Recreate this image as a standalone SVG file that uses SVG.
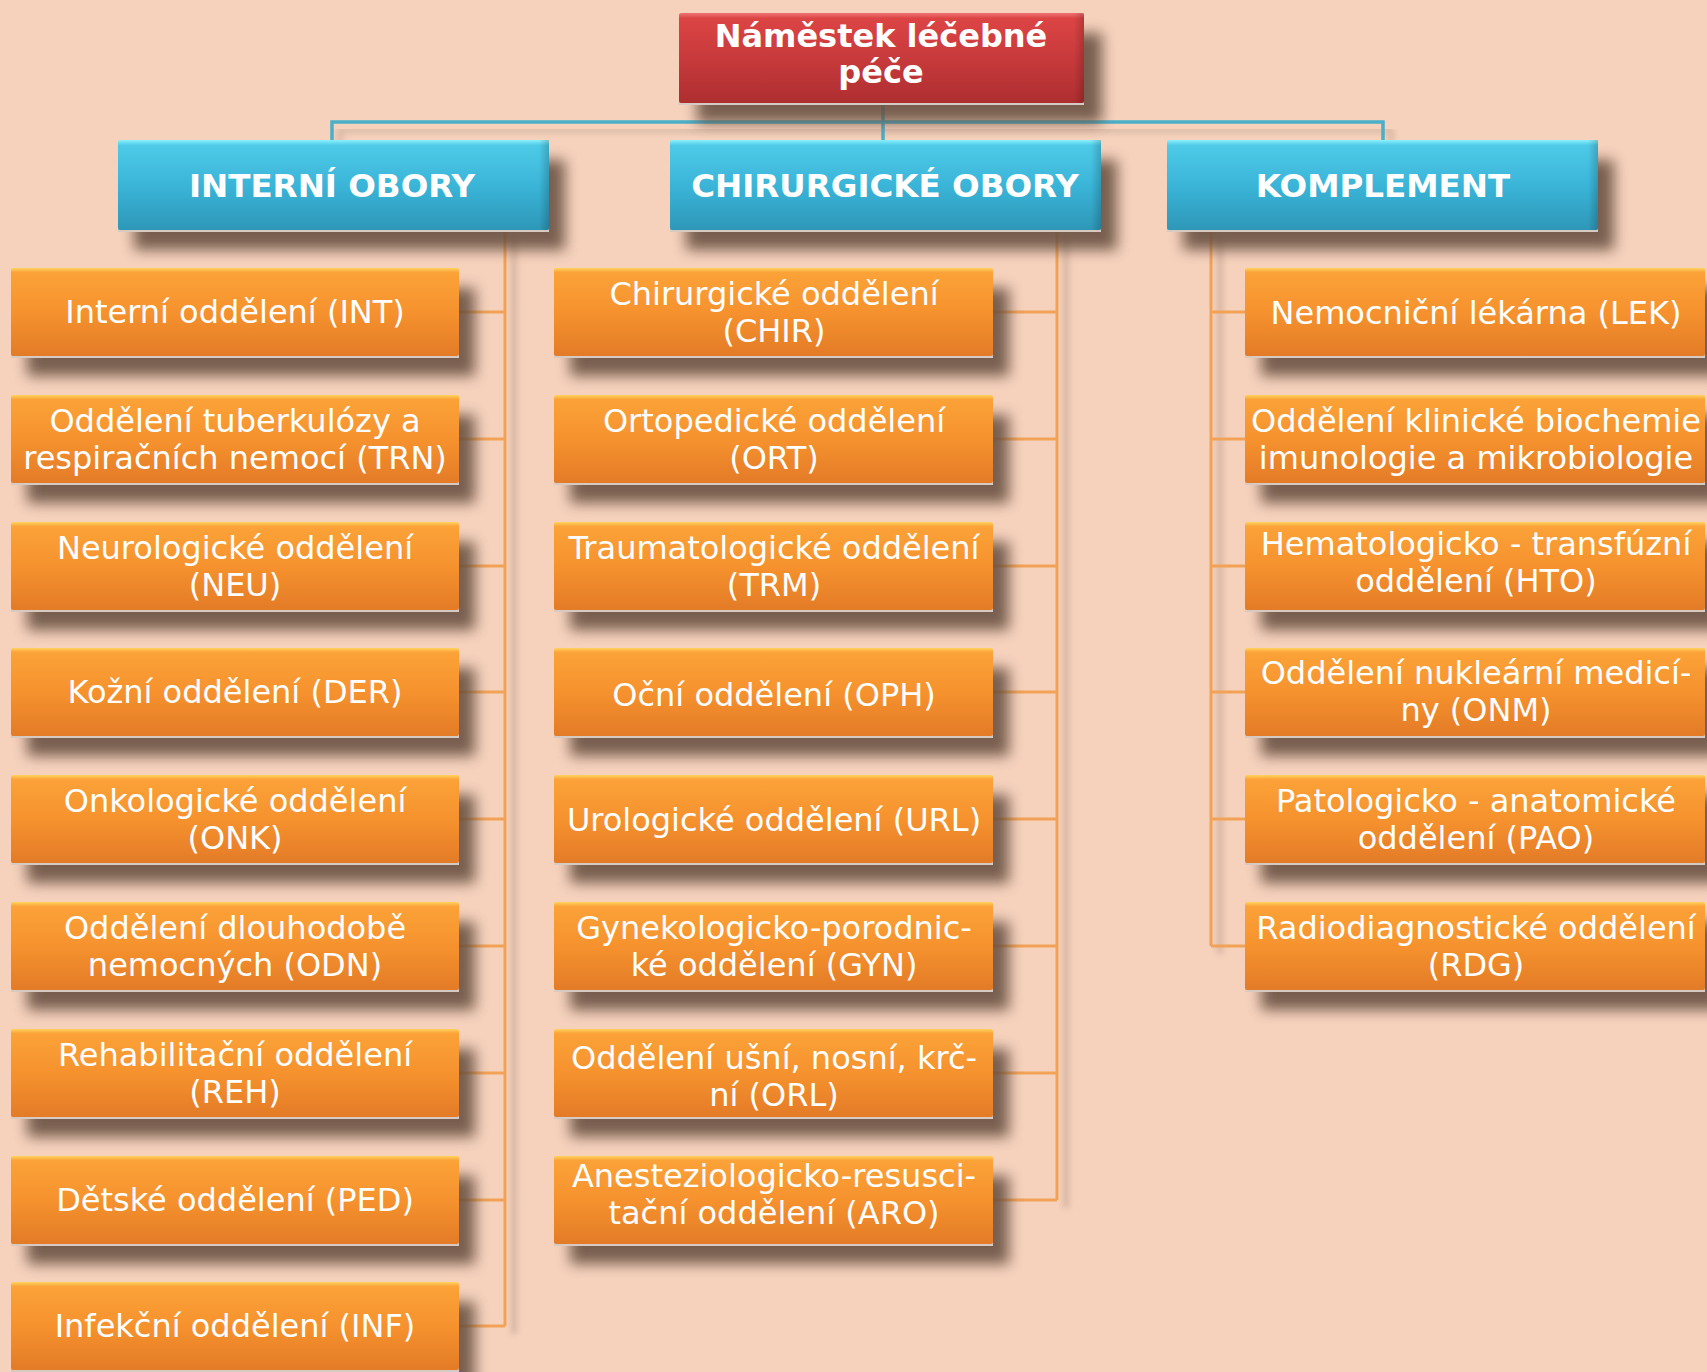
<svg xmlns="http://www.w3.org/2000/svg" width="1707" height="1372" viewBox="0 0 1707 1372">
<defs>
<linearGradient id="gOr" x1="0" y1="0" x2="0" y2="1">
<stop offset="0" stop-color="#FFD45E"/>
<stop offset="0.05" stop-color="#FBA238"/>
<stop offset="0.5" stop-color="#F6922E"/>
<stop offset="1" stop-color="#E37B27"/>
</linearGradient>
<linearGradient id="gTe" x1="0" y1="0" x2="0" y2="1">
<stop offset="0" stop-color="#8AF0FC"/>
<stop offset="0.06" stop-color="#4ECAE8"/>
<stop offset="0.5" stop-color="#3AB5D8"/>
<stop offset="1" stop-color="#2E97B8"/>
</linearGradient>
<linearGradient id="gRe" x1="0" y1="0" x2="0" y2="1">
<stop offset="0" stop-color="#F07272"/>
<stop offset="0.06" stop-color="#DC4444"/>
<stop offset="0.5" stop-color="#C83A3C"/>
<stop offset="1" stop-color="#AE2E30"/>
</linearGradient>
<linearGradient id="gSide" x1="0" y1="0" x2="1" y2="0">
<stop offset="0" stop-color="#000000" stop-opacity="0"/>
<stop offset="1" stop-color="#000000" stop-opacity="0.18"/>
</linearGradient>
<filter id="blur" x="-20%" y="-50%" width="140%" height="200%">
<feGaussianBlur stdDeviation="7"/>
</filter>
<filter id="blur2" x="-50%" y="-5%" width="200%" height="110%">
<feGaussianBlur stdDeviation="3"/>
</filter>
</defs>
<style>
.sh{fill:#67503F;opacity:0.88;filter:url(#blur)}
.or{fill:url(#gOr)}
.te{fill:url(#gTe)}
.re{fill:url(#gRe)}
.edge{fill:#D6CAC2}
.t{font-family:"DejaVu Sans","Verdana",sans-serif;font-size:32px;fill:#FFFFFF;text-anchor:middle}
.h{font-family:"DejaVu Sans","Verdana",sans-serif;font-size:32.5px;font-weight:bold;fill:#FFFFFF;text-anchor:middle}
.co{fill:none;stroke:#F2A256;stroke-width:3}
.cs{fill:none;stroke:#8A6E5E;stroke-width:5;opacity:0.35;filter:url(#blur2)}
.ct{fill:none;stroke:#4AAFC8;stroke-width:3.5}
.cts{fill:none;stroke:#8A6E5E;stroke-width:5;opacity:0.3;filter:url(#blur2)}
</style>
<rect x="0" y="0" width="1707" height="1372" fill="#F6D2BD"/>

<g id="connectors">
<path class="cs" d="M514 236V1334M1066 236V1208M1220 236V954"/>
<path class="cts" d="M340 146V130H1391V146"/>
<path class="ct" d="M883 103V140M332 140V122H1383V140"/>
<path class="co" d="M505 230V1326M459 312H505M459 439H505M459 566H505M459 692H505M459 819H505M459 946H505M459 1073H505M459 1200H505M459 1326H505"/>
<path class="co" d="M1057 230V1200M993 312H1057M993 439H1057M993 566H1057M993 692H1057M993 819H1057M993 946H1057M993 1073H1057M993 1200H1057"/>
<path class="co" d="M1211 230V946M1211 312H1245M1211 439H1245M1211 566H1245M1211 692H1245M1211 819H1245M1211 946H1245"/>
</g>

<g id="n-top">
<rect class="sh" x="697" y="33" width="405" height="90"/>
<rect class="edge" x="679" y="101" width="405" height="4"/>
<rect class="re" x="679" y="13" width="405" height="90" rx="2"/>
<rect x="1074" y="13" width="10" height="90" fill="url(#gSide)"/>
<text class="h" x="881" y="47" style="font-size:32px">Náměstek léčebné</text>
<text class="h" x="881" y="83" style="font-size:32px">péče</text>
</g>

<g id="n-interni">
<rect class="sh" x="134" y="160" width="431" height="90"/>
<rect class="edge" x="118" y="228" width="431" height="4"/>
<rect class="te" x="118" y="140" width="431" height="90" rx="2"/>
<rect x="539" y="140" width="10" height="90" fill="url(#gSide)"/>
<text class="h" x="332" y="197">INTERNÍ OBORY</text>
</g>
<g id="n-chir">
<rect class="sh" x="686" y="160" width="431" height="90"/>
<rect class="edge" x="670" y="228" width="431" height="4"/>
<rect class="te" x="670" y="140" width="431" height="90" rx="2"/>
<rect x="1091" y="140" width="10" height="90" fill="url(#gSide)"/>
<text class="h" x="885" y="197">CHIRURGICKÉ OBORY</text>
</g>
<g id="n-kompl">
<rect class="sh" x="1183" y="160" width="431" height="90"/>
<rect class="edge" x="1167" y="228" width="431" height="4"/>
<rect class="te" x="1167" y="140" width="431" height="90" rx="2"/>
<rect x="1588" y="140" width="10" height="90" fill="url(#gSide)"/>
<text class="h" x="1383" y="197">KOMPLEMENT</text>
</g>

<!-- left column -->
<g id="n-int">
<rect class="sh" x="27" y="288" width="448" height="88"/>
<rect class="edge" x="11" y="354" width="448" height="4"/>
<rect class="or" x="11" y="268" width="448" height="88" rx="2"/>
<text class="t" x="235" y="323">Interní oddělení (INT)</text>
</g>
<g id="n-trn">
<rect class="sh" x="27" y="415" width="448" height="88"/>
<rect class="edge" x="11" y="481" width="448" height="4"/>
<rect class="or" x="11" y="395" width="448" height="88" rx="2"/>
<text class="t" x="235" y="432">Oddělení tuberkulózy a</text>
<text class="t" x="235" y="469">respiračních nemocí (TRN)</text>
</g>
<g id="n-neu">
<rect class="sh" x="27" y="542" width="448" height="88"/>
<rect class="edge" x="11" y="608" width="448" height="4"/>
<rect class="or" x="11" y="522" width="448" height="88" rx="2"/>
<text class="t" x="235" y="559">Neurologické oddělení</text>
<text class="t" x="235" y="596">(NEU)</text>
</g>
<g id="n-der">
<rect class="sh" x="27" y="668" width="448" height="88"/>
<rect class="edge" x="11" y="734" width="448" height="4"/>
<rect class="or" x="11" y="648" width="448" height="88" rx="2"/>
<text class="t" x="235" y="703">Kožní oddělení (DER)</text>
</g>
<g id="n-onk">
<rect class="sh" x="27" y="795" width="448" height="88"/>
<rect class="edge" x="11" y="861" width="448" height="4"/>
<rect class="or" x="11" y="775" width="448" height="88" rx="2"/>
<text class="t" x="235" y="812">Onkologické oddělení</text>
<text class="t" x="235" y="849">(ONK)</text>
</g>
<g id="n-odn">
<rect class="sh" x="27" y="922" width="448" height="88"/>
<rect class="edge" x="11" y="988" width="448" height="4"/>
<rect class="or" x="11" y="902" width="448" height="88" rx="2"/>
<text class="t" x="235" y="939">Oddělení dlouhodobě</text>
<text class="t" x="235" y="976">nemocných (ODN)</text>
</g>
<g id="n-reh">
<rect class="sh" x="27" y="1049" width="448" height="88"/>
<rect class="edge" x="11" y="1115" width="448" height="4"/>
<rect class="or" x="11" y="1029" width="448" height="88" rx="2"/>
<text class="t" x="235" y="1066">Rehabilitační oddělení</text>
<text class="t" x="235" y="1103">(REH)</text>
</g>
<g id="n-ped">
<rect class="sh" x="27" y="1176" width="448" height="88"/>
<rect class="edge" x="11" y="1242" width="448" height="4"/>
<rect class="or" x="11" y="1156" width="448" height="88" rx="2"/>
<text class="t" x="235" y="1211">Dětské oddělení (PED)</text>
</g>
<g id="n-inf">
<rect class="sh" x="27" y="1302" width="448" height="88"/>
<rect class="edge" x="11" y="1368" width="448" height="4"/>
<rect class="or" x="11" y="1282" width="448" height="88" rx="2"/>
<text class="t" x="235" y="1337">Infekční oddělení (INF)</text>
</g>

<!-- middle column -->
<g id="n-chir-odd">
<rect class="sh" x="570" y="288" width="439" height="88"/>
<rect class="edge" x="554" y="354" width="439" height="4"/>
<rect class="or" x="554" y="268" width="439" height="88" rx="2"/>
<text class="t" x="774" y="305">Chirurgické oddělení</text>
<text class="t" x="774" y="342">(CHIR)</text>
</g>
<g id="n-ort">
<rect class="sh" x="570" y="415" width="439" height="88"/>
<rect class="edge" x="554" y="481" width="439" height="4"/>
<rect class="or" x="554" y="395" width="439" height="88" rx="2"/>
<text class="t" x="774" y="432">Ortopedické oddělení</text>
<text class="t" x="774" y="469">(ORT)</text>
</g>
<g id="n-trm">
<rect class="sh" x="570" y="542" width="439" height="88"/>
<rect class="edge" x="554" y="608" width="439" height="4"/>
<rect class="or" x="554" y="522" width="439" height="88" rx="2"/>
<text class="t" x="774" y="559">Traumatologické oddělení</text>
<text class="t" x="774" y="596">(TRM)</text>
</g>
<g id="n-oph">
<rect class="sh" x="570" y="668" width="439" height="88"/>
<rect class="edge" x="554" y="734" width="439" height="4"/>
<rect class="or" x="554" y="648" width="439" height="88" rx="2"/>
<text class="t" x="774" y="706">Oční oddělení (OPH)</text>
</g>
<g id="n-url">
<rect class="sh" x="570" y="795" width="439" height="88"/>
<rect class="edge" x="554" y="861" width="439" height="4"/>
<rect class="or" x="554" y="775" width="439" height="88" rx="2"/>
<text class="t" x="774" y="831">Urologické oddělení (URL)</text>
</g>
<g id="n-gyn">
<rect class="sh" x="570" y="922" width="439" height="88"/>
<rect class="edge" x="554" y="988" width="439" height="4"/>
<rect class="or" x="554" y="902" width="439" height="88" rx="2"/>
<text class="t" x="774" y="939">Gynekologicko-porodnic-</text>
<text class="t" x="774" y="976">ké oddělení (GYN)</text>
</g>
<g id="n-orl">
<rect class="sh" x="570" y="1049" width="439" height="88"/>
<rect class="edge" x="554" y="1115" width="439" height="4"/>
<rect class="or" x="554" y="1029" width="439" height="88" rx="2"/>
<text class="t" x="774" y="1069">Oddělení ušní, nosní, krč-</text>
<text class="t" x="774" y="1106">ní (ORL)</text>
</g>
<g id="n-aro">
<rect class="sh" x="570" y="1176" width="439" height="88"/>
<rect class="edge" x="554" y="1242" width="439" height="4"/>
<rect class="or" x="554" y="1156" width="439" height="88" rx="2"/>
<text class="t" x="774" y="1187">Anesteziologicko-resusci-</text>
<text class="t" x="774" y="1224">tační oddělení (ARO)</text>
</g>

<!-- right column -->
<g id="n-lek">
<rect class="sh" x="1261" y="288" width="460" height="88"/>
<rect class="edge" x="1245" y="354" width="460" height="4"/>
<rect class="or" x="1245" y="268" width="460" height="88" rx="2"/>
<text class="t" x="1476" y="324">Nemocniční lékárna (LEK)</text>
</g>
<g id="n-okb">
<rect class="sh" x="1261" y="415" width="460" height="88"/>
<rect class="edge" x="1245" y="481" width="460" height="4"/>
<rect class="or" x="1245" y="395" width="460" height="88" rx="2"/>
<text class="t" x="1476" y="432">Oddělení klinické biochemie</text>
<text class="t" x="1476" y="469">imunologie a mikrobiologie</text>
</g>
<g id="n-hto">
<rect class="sh" x="1261" y="542" width="460" height="88"/>
<rect class="edge" x="1245" y="608" width="460" height="4"/>
<rect class="or" x="1245" y="522" width="460" height="88" rx="2"/>
<text class="t" x="1476" y="555">Hematologicko - transfúzní</text>
<text class="t" x="1476" y="592">oddělení (HTO)</text>
</g>
<g id="n-onm">
<rect class="sh" x="1261" y="668" width="460" height="88"/>
<rect class="edge" x="1245" y="734" width="460" height="4"/>
<rect class="or" x="1245" y="648" width="460" height="88" rx="2"/>
<text class="t" x="1476" y="684">Oddělení nukleární medicí-</text>
<text class="t" x="1476" y="721">ny (ONM)</text>
</g>
<g id="n-pao">
<rect class="sh" x="1261" y="795" width="460" height="88"/>
<rect class="edge" x="1245" y="861" width="460" height="4"/>
<rect class="or" x="1245" y="775" width="460" height="88" rx="2"/>
<text class="t" x="1476" y="812">Patologicko - anatomické</text>
<text class="t" x="1476" y="849">oddělení (PAO)</text>
</g>
<g id="n-rdg">
<rect class="sh" x="1261" y="922" width="460" height="88"/>
<rect class="edge" x="1245" y="988" width="460" height="4"/>
<rect class="or" x="1245" y="902" width="460" height="88" rx="2"/>
<text class="t" x="1476" y="939">Radiodiagnostické oddělení</text>
<text class="t" x="1476" y="976">(RDG)</text>
</g>
</svg>
